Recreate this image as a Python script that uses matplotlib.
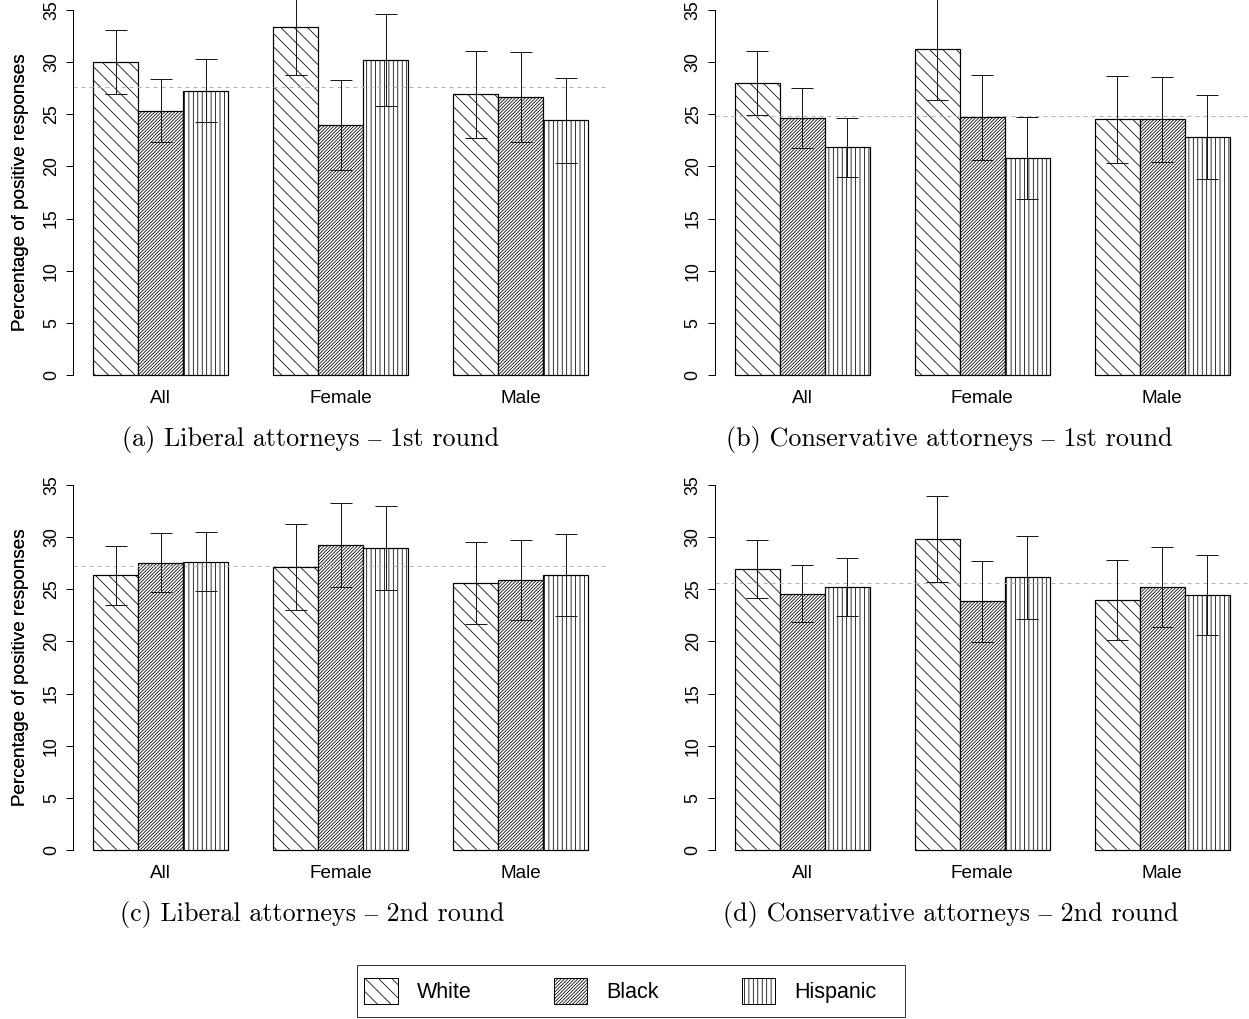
import numpy as np
import matplotlib
matplotlib.use("Agg")
import matplotlib.pyplot as plt
from matplotlib.patches import Patch, Rectangle

# ---------------- data ----------------
groups = ["All", "Female", "Male"]
races = ["White", "Black", "Hispanic"]

# (a) Liberal attorneys - 1st round  (rows: White, Black, Hispanic; cols: All, Female, Male)
a_mean = [[30.05, 33.33, 26.91], [25.34, 23.97, 26.69], [27.26, 30.17, 24.42]]
a_err = [[3.07, 4.53, 4.20], [3.00, 4.27, 4.30], [3.03, 4.41, 4.06]]
a_ref = 27.61

# (b) Conservative attorneys - 1st round
b_mean = [[27.96, 31.22, 24.51], [24.61, 24.70, 24.51], [21.83, 20.81, 22.82]]
b_err = [[3.07, 4.85, 4.20], [2.88, 4.10, 4.10], [2.82, 3.92, 4.03]]
b_ref = 24.80

# (c) Liberal attorneys - 2nd round
c_mean = [[26.33, 27.13, 25.60], [27.55, 29.27, 25.86], [27.64, 28.99, 26.33]]
c_err = [[2.83, 4.10, 3.95], [2.80, 4.03, 3.85], [2.83, 4.03, 3.93]]
c_ref = 27.20

# (d) Conservative attorneys - 2nd round
d_mean = [[26.91, 29.82, 23.97], [24.58, 23.87, 25.22], [25.25, 26.14, 24.42]]
d_err = [[2.77, 4.08, 3.80], [2.72, 3.89, 3.85], [2.77, 4.00, 3.83]]
d_ref = 25.57

captions = ["(a) Liberal attorneys \u2013 1st round",
            "(b) Conservative attorneys \u2013 1st round",
            "(c) Liberal attorneys \u2013 2nd round",
            "(d) Conservative attorneys \u2013 2nd round"]
yticks = [0, 5, 10, 15, 20, 25, 30, 35]
ylabel = "Percentage of positive responses"

# ---------------- style ----------------
DPI = 80
W, H = 1249, 1019
plt.rcParams["font.family"] = ["Liberation Sans", "DejaVu Sans"]
plt.rcParams["hatch.linewidth"] = 0.7
plt.rcParams["hatch.color"] = "black"


def measured_hatch_cell():
    """Pixel size of one hatch repeat cell in this matplotlib build."""
    try:
        tf = plt.figure(figsize=(400 / DPI, 60 / DPI), dpi=DPI)
        tax = tf.add_axes([0, 0, 1, 1])
        tax.set_axis_off()
        tax.add_patch(Rectangle((0, 0), 1, 1, transform=tax.transAxes,
                                facecolor="white", edgecolor="none", hatch="|", lw=0))
        tf.canvas.draw()
        row = np.asarray(tf.canvas.buffer_rgba())[30, :, 0].astype(float)
        plt.close(tf)
        dark = row < 215
        starts = np.flatnonzero(dark[1:] & ~dark[:-1])
        if len(starts) >= 2:
            return float(np.median(np.diff(starts))) * 6.0
    except Exception:
        pass
    return float(DPI)


cell = measured_hatch_cell()
# horizontal line spacings (pixels) seen in the reference: White 13.3, Black 3.3, Hispanic 4.4
# (diagonal hatches in matplotlib are spaced 2*cell/(6n) horizontally, vertical ones cell/(6n))
n_white = max(1, int(round(2 * cell / 6.0 / 13.3)))
n_black = max(1, int(round(2 * cell / 6.0 / 3.3)))
n_hisp = max(1, int(round(cell / 6.0 / 4.4)))
hatches = ["\\" * n_white, "/" * n_black, "|" * n_hisp]

fig = plt.figure(figsize=(W / DPI, H / DPI), dpi=DPI)


def px_axes(left, right, top, bottom):
    return fig.add_axes([left / W, 1 - bottom / H, (right - left) / W, (bottom - top) / H])


XMIN, XMAX = 0.56, 12.44
YMIN, YMAX = -1.4, 36.4
unit = 45.0
yunit = 365.0 / 35.0

panels = [
    (a_mean, a_err, a_ref, 73.3, 375.0),
    (b_mean, b_err, b_ref, 715.0, 375.0),
    (c_mean, c_err, c_ref, 73.3, 850.0),
    (d_mean, d_err, d_ref, 715.0, 850.0),
]
cap_pos = [(311, 446), (949, 446), (312, 921), (951, 921)]

for (mean, err, ref, x0, y0), cap, (cx, cy) in zip(panels, captions, cap_pos):
    left = x0
    right = x0 + (XMAX - XMIN) * unit
    bottom = y0 - YMIN * yunit
    top = y0 - YMAX * yunit
    ax = px_axes(left, right, top, bottom)
    ax.set_xlim(XMIN, XMAX)
    ax.set_ylim(YMIN, YMAX)
    for s in range(3):
        lefts = np.arange(3) * 4 + 1 + s
        ax.bar(lefts, mean[s], width=1.0, align="edge", facecolor="white",
               edgecolor="black", linewidth=1.1, hatch=hatches[s], zorder=1)
    ax.axhline(ref, color="#b5b5b5", lw=0.9, ls=(0, (4, 4)), zorder=2)
    for s in range(3):
        centers = np.arange(3) * 4 + 1.5 + s
        ax.errorbar(centers, mean[s], yerr=err[s], fmt="none", ecolor="#1a1a1a",
                    elinewidth=0.9, capsize=9.9, capthick=0.9, zorder=3)
    for sp in ["top", "right", "bottom"]:
        ax.spines[sp].set_visible(False)
    ax.spines["left"].set_bounds(0, 35)
    ax.spines["left"].set_linewidth(0.9)
    ax.set_yticks(yticks)
    ax.set_yticklabels([str(v) for v in yticks], rotation=90, va="center")
    ax.tick_params(axis="y", length=6, width=0.9, pad=6, labelsize=16)
    ax.set_xticks(np.arange(3) * 4 + 2.5)
    ax.set_xticklabels(groups)
    ax.tick_params(axis="x", length=0, pad=0.5, labelsize=17)
    ax.set_ylabel(ylabel, fontsize=17, va="baseline")
    ax.yaxis.set_label_coords((25.5 - left) / (right - left), 0.5)
    ax.patch.set_alpha(0)
    fig.text(cx / W, 1 - cy / H, cap, ha="center", va="baseline",
             fontsize=23.5, family=["cmr10", "STIXGeneral", "DejaVu Serif"])

handles = [Patch(facecolor="white", edgecolor="black", linewidth=0.9, hatch=h) for h in hatches]
leg = fig.legend(handles, races, loc="center left", bbox_to_anchor=(358 / W, 1 - 991 / H),
                 ncol=3, fontsize=19.4, frameon=False,
                 handlelength=1.535, handleheight=1.535, handletextpad=0.88,
                 columnspacing=3.85, borderpad=0.3, borderaxespad=0.0)
fig.add_artist(Rectangle((357 / W, 1 - 1017 / H), 548 / W, 52 / H, transform=fig.transFigure,
                         fill=False, edgecolor="#333333", linewidth=0.9))

fig.savefig("out.png", dpi=DPI)
